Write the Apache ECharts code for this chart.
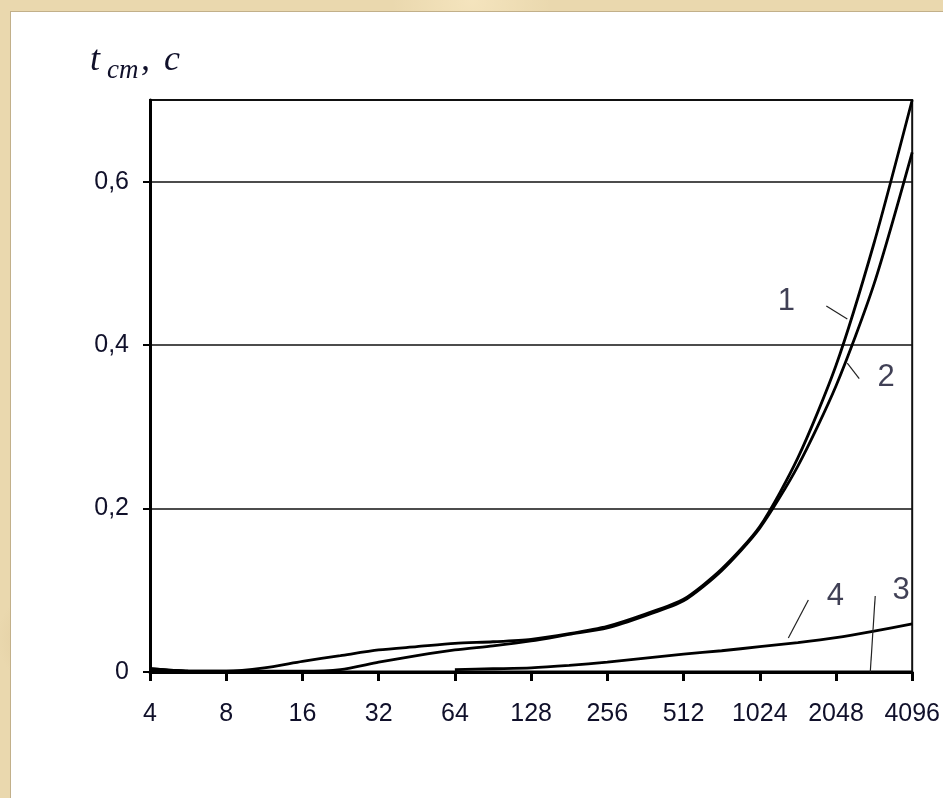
<!DOCTYPE html>
<html><head><meta charset="utf-8">
<script src="https://cdn.jsdelivr.net/npm/echarts@6/dist/echarts.min.js"></script>
<style>
html,body{margin:0;padding:0;width:943px;height:798px;overflow:hidden;
background:#ead8ae;
background-image:
 radial-gradient(circle at 20% 30%, rgba(255,245,215,0.6) 0, rgba(255,245,215,0) 40px),
 radial-gradient(circle at 70% 10%, rgba(200,175,125,0.35) 0, rgba(200,175,125,0) 60px),
 radial-gradient(circle at 5% 80%, rgba(205,180,130,0.4) 0, rgba(205,180,130,0) 50px),
 radial-gradient(circle at 50% 0%, rgba(255,240,205,0.5) 0, rgba(255,240,205,0) 80px);}
#panel{position:absolute;left:10px;top:11px;right:0;bottom:0;background:#fff;border-left:1px solid #c2b08a;border-top:1px solid #c2b08a;}
#chart{position:absolute;left:0;top:0;width:943px;height:798px;}
</style></head><body>
<div id="panel"></div><div id="chart"></div>
<script>
// x positions (N, log2 scale), read at half-octave steps
const xValues = [4, 5.66, 8, 11.3, 16, 22.6, 32, 45.3, 64, 90.5, 128, 181, 256, 362, 512, 724, 1024, 1448, 2048, 2896, 4096];
const xTickValues = [4, 8, 16, 32, 64, 128, 256, 512, 1024, 2048, 4096];
const yTickValues = [0, 0.2, 0.4, 0.6];

const curve1 = [0.004, 0.001, 0.001, 0.005, 0.013, 0.020, 0.027, 0.031, 0.035, 0.037, 0.040, 0.047, 0.056, 0.071, 0.089, 0.126, 0.178, 0.262, 0.375, 0.525, 0.700];
const curve2 = [0.004, 0.001, 0.001, 0.001, 0.001, 0.003, 0.012, 0.020, 0.027, 0.032, 0.038, 0.046, 0.054, 0.069, 0.087, 0.124, 0.176, 0.252, 0.350, 0.475, 0.636];
const curve3 = [0.003, 0.001, 0.000, 0.000, 0.000, 0.000, 0.000, 0.000, 0.000, 0.000, 0.000, 0.000, 0.000, 0.000, 0.000, 0.000, 0.000, 0.000, 0.000, 0.000, 0.000];
const curve4 = [null, null, null, null, null, null, null, null, 0.003, 0.004, 0.005, 0.008, 0.012, 0.017, 0.022, 0.026, 0.031, 0.036, 0.042, 0.050, 0.059];

const curveNames = ['1', '2', '3', '4'];
// annotation anchors in data coordinates
const labelAnchors = [[1304, 0.454], [3234, 0.360], [3707, 0.100], [2035, 0.092]];
const leaderLines = [
  [[1876, 0.448], [2270, 0.432]],
  [[2270, 0.378], [2530, 0.359]],
  [[2926, 0.093], [2798, 0.0]],
  [[1328, 0.0416], [1593, 0.088]]
];

const pair = (ys) => xValues.map((x, i) => [x, ys[i]]);
const curves = [curve1, curve2, curve3, curve4];

const chart = echarts.init(document.getElementById('chart'), null, {renderer: 'canvas'});
const lineSeries = curves.map((ys, k) => ({
  name: curveNames[k],
  type: 'line',
  data: pair(ys),
  showSymbol: false,
  symbol: 'none',
  smooth: 0.25,
  connectNulls: false,
  lineStyle: {color: '#000', width: 2.8},
  z: 3
}));

const txtColor = '#10102a';
const option = {
  animation: false,
  backgroundColor: 'transparent',
  textStyle: {fontFamily: '"Liberation Sans", Arial, sans-serif'},
  grid: {left: 150, right: 30, top: 100, bottom: 126, show: true, borderColor: '#111', borderWidth: 2, backgroundColor: 'transparent'},
  xAxis: {
    type: 'log', logBase: 2, min: 4, max: 4096,
    axisLine: {show: true, lineStyle: {color: '#000', width: 3}},
    axisTick: {show: true, length: 9, lineStyle: {color: '#000', width: 3}, customValues: xTickValues},
    axisLabel: {show: true, customValues: xTickValues, margin: 30, fontSize: 25, color: txtColor,
      formatter: (v) => String(Math.round(v))},
    splitLine: {show: false},
    minorTick: {show: false}
  },
  yAxis: {
    type: 'value', min: 0, max: 0.7, interval: 0.2,
    axisLine: {show: true, lineStyle: {color: '#000', width: 3}},
    axisTick: {show: true, length: 7, lineStyle: {color: '#000', width: 2}, customValues: yTickValues},
    axisLabel: {show: true, customValues: yTickValues, margin: 21, fontSize: 25, color: txtColor,
      formatter: (v) => v === 0 ? '0' : v.toFixed(1).replace('.', ',')},
    splitLine: {show: true, lineStyle: {color: '#111', width: 1.7}}
  },
  series: lineSeries.concat([{
    type: 'scatter',
    data: labelAnchors.map((a, i) => ({name: curveNames[i], value: a})),
    symbolSize: 0,
    silent: true,
    label: {show: true, position: 'inside', formatter: (p) => p.name, fontSize: 31, color: txtColor,
      fontFamily: '"Liberation Sans", Arial, sans-serif'},
    markLine: {
      silent: true, symbol: ['none', 'none'], animation: false,
      label: {show: false},
      lineStyle: {color: '#222', width: 1.2, type: 'solid'},
      data: leaderLines.map(l => [{coord: l[0]}, {coord: l[1]}])
    },
    z: 4
  }]),
  graphic: [
    {type: 'text', x: 90, y: 61, style: {text: 't', font: 'italic 36px "Liberation Serif", serif', fill: txtColor, verticalAlign: 'middle'}},
    {type: 'text', x: 107, y: 71, style: {text: 'cm', font: 'italic 27px "Liberation Serif", serif', fill: txtColor, verticalAlign: 'middle'}},
    {type: 'text', x: 141, y: 61, style: {text: ',', font: 'italic 36px "Liberation Serif", serif', fill: txtColor, verticalAlign: 'middle'}},
    {type: 'text', x: 164, y: 61, style: {text: 'c', font: 'italic 36px "Liberation Serif", serif', fill: txtColor, verticalAlign: 'middle'}}
  ]
};
chart.setOption(option);
</script>
</body></html>
